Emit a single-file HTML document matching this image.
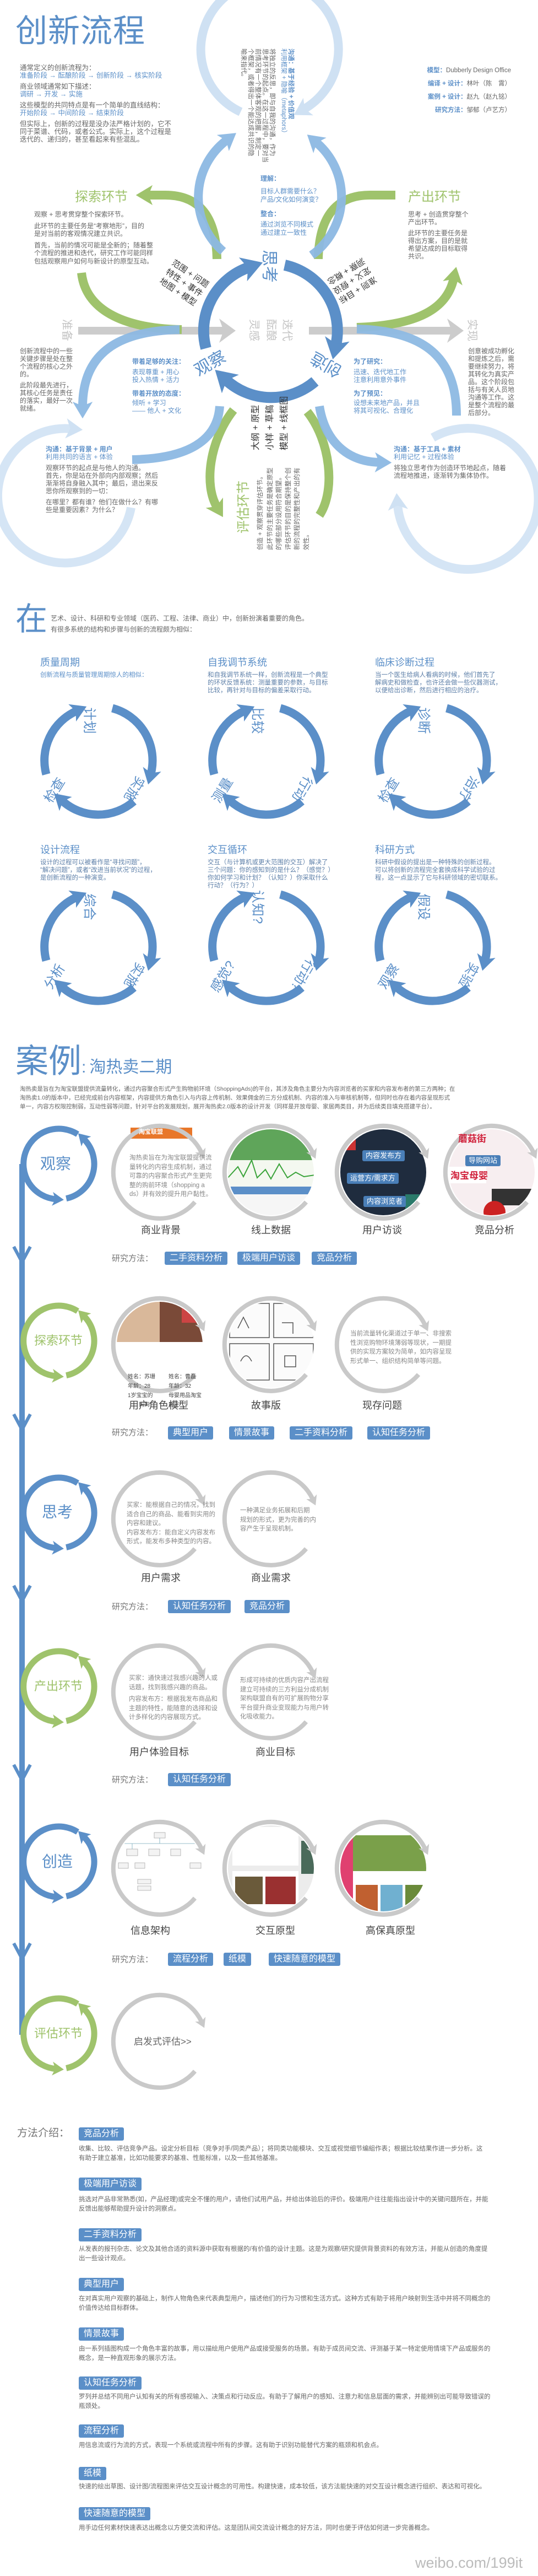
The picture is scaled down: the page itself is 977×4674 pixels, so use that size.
<!DOCTYPE html>
<html><head><meta charset="utf-8">
<style>
*{margin:0;padding:0;box-sizing:border-box}
body{width:977px;height:4674px;position:relative;overflow:hidden;background:#fff;font-family:"Liberation Sans","Noto Sans CJK SC",sans-serif;color:#666}
.t{position:absolute;font-size:12px;line-height:14px;white-space:nowrap;color:#666}
.b{color:#5b8fc8}
.bb{color:#5b8fc8;font-weight:bold}
.g{color:#9fc36c}
.p{margin-bottom:6px}
.rot{position:absolute;transform-origin:center center;white-space:nowrap}
.tag{position:absolute;height:24px;line-height:24px;background:#5b8fc8;color:#fff;font-size:16px;padding:0 9px;border-radius:3px;white-space:nowrap}
.lbl{position:absolute;font-size:18px;color:#444;white-space:nowrap}
.rm{position:absolute;font-size:15px;color:#777;white-space:nowrap}
.ct{position:absolute;font-size:18px;color:#5b8fc8;white-space:nowrap}
.cd{position:absolute;font-size:11.5px;line-height:14px;color:#5d7fa8;white-space:nowrap}
.cl{position:absolute;font-size:24px;color:#5b8fc8;white-space:nowrap;transform-origin:center center}
.md{position:absolute;left:143px;font-size:11.5px;line-height:16.5px;color:#666;white-space:nowrap}
.in{position:absolute;font-size:11.5px;line-height:16.5px;color:#888;white-space:nowrap}
</style></head><body>

<svg width="977" height="4674" style="position:absolute;left:0;top:0" xmlns="http://www.w3.org/2000/svg">
<defs>
<marker id="mD" viewBox="0 0 20 24" refX="6" refY="12" markerWidth="1.9" markerHeight="2.3" orient="auto"><path d="M0,0 L20,12 L0,24 L5,12 z" fill="#5b8fc8"/></marker>
<marker id="mM" viewBox="0 0 20 24" refX="6" refY="12" markerWidth="1.9" markerHeight="2.3" orient="auto"><path d="M0,0 L20,12 L0,24 L5,12 z" fill="#8db9e3"/></marker>
<marker id="mL" viewBox="0 0 20 24" refX="6" refY="12" markerWidth="1.9" markerHeight="2.3" orient="auto"><path d="M0,0 L20,12 L0,24 L5,12 z" fill="#cfe1f3"/></marker>
<marker id="mG" viewBox="0 0 20 24" refX="6" refY="12" markerWidth="1.9" markerHeight="2.3" orient="auto"><path d="M0,0 L20,12 L0,24 L5,12 z" fill="#9fc36c"/></marker>
<marker id="mY" viewBox="0 0 20 24" refX="6" refY="12" markerWidth="2.2" markerHeight="2.6" orient="auto"><path d="M0,0 L20,12 L0,24 L5,12 z" fill="#c9c9c9"/></marker>

<g id="cyc" fill="none" stroke="#5b8fc8" stroke-width="15">
<path d="M 25 -95 A 98 98 0 0 1 95 24" marker-end="url(#mD)"/>
<path d="M 64 74 A 98 98 0 0 1 -66 73" marker-end="url(#mD)"/>
<path d="M -95 25 A 98 98 0 0 1 -40 -90" marker-end="url(#mD)"/>
</g>
<g id="gring" fill="none" stroke="#c9c9c9" stroke-width="8">
<path d="M 64 54 A 84 84 0 1 1 76 -35.5" marker-end="url(#mY)"/>
</g>
<g id="tB" fill="none" stroke="#5b8fc8" stroke-width="11">
<path d="M 34 -54 A 64 64 0 1 0 -5.6 63.8" marker-end="url(#mD)"/>
<path d="M 13.3 62.6 A 64 64 0 0 0 45.3 -45.3" marker-end="url(#mD)"/>
</g>
<g id="tG" fill="none" stroke="#9fc36c" stroke-width="11">
<path d="M 34 -54 A 64 64 0 1 0 -5.6 63.8" marker-end="url(#mG)"/>
<path d="M 13.3 62.6 A 64 64 0 0 0 45.3 -45.3" marker-end="url(#mG)"/>
</g>
<clipPath id="cc"><circle cx="0" cy="0" r="78"/></clipPath>
</defs>

<!-- TOP DIAGRAM -->
<g fill="none">
<path d="M 437 203 A 125 125 0 1 1 552 198" stroke="#cfe1f3" stroke-width="16" marker-end="url(#mL)"/>
<path d="M 238 921 A 122 122 0 1 1 129 778" stroke="#d5e5f5" stroke-width="16" marker-end="url(#mL)"/>
<path d="M 786 794 A 128 128 0 1 1 722 916" stroke="#d5e5f5" stroke-width="16" marker-end="url(#mL)"/>
</g>
<!-- gray arrows -->
<rect x="142" y="593" width="266" height="14" fill="#cccccc"/>
<polygon points="398,578 428,600 398,622 406,600" fill="#cccccc"/>
<rect x="561" y="593" width="262" height="14" fill="#cccccc"/>
<polygon points="812,578 842,600 812,622 820,600" fill="#cccccc"/>
<g fill="none" stroke="#9fc36c" stroke-width="16">
<path d="M 394 470 Q 392 354 300 354 L 268 354" marker-end="url(#mG)"/>
<path d="M 148 495 C 155 560 220 596 330 598"/>
<path d="M 578 470 Q 580 354 672 354 L 718 354"/>
<path d="M 648 594 C 760 590 812 560 824 505" marker-end="url(#mG)"/>
<path d="M 424 744 C 380 800 370 880 394 920" marker-end="url(#mG)"/>
<path d="M 558 747 C 600 800 610 890 580 935"/>
</g>
<g fill="none" stroke="#8db9e3" stroke-width="16" opacity="0.95">
<path d="M 405 456 A 130 130 0 0 1 412 254" marker-end="url(#mM)"/>
<path d="M 566 463 A 130 130 0 0 0 574 258" marker-end="url(#mM)"/>
<path d="M 326 598 C 230 600 150 630 150 738" marker-end="url(#mM)"/>
<path d="M 399 737 C 395 800 340 832 240 834"/>
<path d="M 648 597 C 760 600 829 640 829 754"/>
<path d="M 580 737 C 590 800 630 838 690 839" marker-end="url(#mM)"/>
</g>
<g fill="none" stroke="#5b8fc8" stroke-width="20">
<path d="M 374 632 A 122 122 0 0 1 452 485" marker-end="url(#mD)"/>
<path d="M 517 481 A 122 122 0 0 1 610 626" marker-end="url(#mD)"/>
<path d="M 572 692 A 122 122 0 0 1 410 689" marker-end="url(#mD)"/>
</g>

<!-- CYCLES -->
<use href="#cyc" x="179" y="1380"/>
<use href="#cyc" x="484" y="1380"/>
<use href="#cyc" x="786" y="1380"/>
<use href="#cyc" x="179" y="1718"/>
<use href="#cyc" x="484" y="1718"/>
<use href="#cyc" x="786" y="1718"/>

<!-- TIMELINE -->
<rect x="35" y="2112" width="10" height="1580" fill="#5b8fc8"/>
<g fill="none" stroke="#5b8fc8" stroke-width="6">
<polyline points="25,2262 40,2290 55,2262"/>
<polyline points="25,2566 40,2594 55,2566"/>
<polyline points="25,2877 40,2905 55,2877"/>
<polyline points="25,3202 40,3230 55,3202"/>
<polyline points="25,3526 40,3554 55,3526"/>
</g>
<use href="#tB" x="107" y="2112"/>
<use href="#tG" x="107" y="2433"/>
<use href="#tB" x="107" y="2745"/>
<use href="#tG" x="107" y="3060"/>
<use href="#tB" x="107" y="3378"/>
<use href="#tG" x="107" y="3690"/>

<!-- image circles -->
<g transform="translate(492,2127)" clip-path="url(#cc)">
<rect x="-80" y="-80" width="160" height="160" fill="#fff"/>
<rect x="-80" y="-80" width="160" height="58" fill="#5fa55a"/>
<rect x="-80" y="-22" width="160" height="48" fill="#f4f8f0"/>
<polyline points="-80,12 -60,-10 -50,8 -35,-22 -25,10 -10,-5 0,12 15,-15 30,10 45,0 60,8 80,5" fill="none" stroke="#3aa33a" stroke-width="2"/>
<rect x="-80" y="26" width="160" height="14" fill="#5b8fc8"/>
<rect x="-80" y="40" width="160" height="40" fill="#f6f6f6"/>
</g>
<g transform="translate(696,2127)" clip-path="url(#cc)">
<rect x="-80" y="-80" width="160" height="160" fill="#1f2c3e"/>
<rect x="-80" y="-60" width="30" height="20" fill="#c33"/>
<rect x="40" y="40" width="30" height="30" fill="#2a7a6a"/>
</g>
<g transform="translate(893,2127)" clip-path="url(#cc)">
<rect x="-80" y="-80" width="160" height="160" fill="#f7eef0"/>
<rect x="-80" y="-10" width="70" height="30" fill="#fff"/>
<rect x="0" y="30" width="80" height="30" fill="#333"/>
<circle cx="5" cy="72" r="20" fill="#c22"/>
</g>
<g transform="translate(290,2440)" clip-path="url(#cc)">
<rect x="-80" y="-80" width="160" height="160" fill="#fff"/>
<rect x="-80" y="-80" width="80" height="75" fill="#d9b89a"/>
<rect x="0" y="-80" width="80" height="75" fill="#7a4a38"/>
<rect x="40" y="-80" width="40" height="40" fill="#c44"/>
</g>
<g transform="translate(492,2440)" clip-path="url(#cc)">
<rect x="-80" y="-80" width="160" height="160" fill="#fbfbfb"/>
<g fill="none" stroke="#555" stroke-width="1.5">
<rect x="-75" y="-75" width="72" height="62"/><rect x="5" y="-75" width="72" height="62"/>
<rect x="-75" y="-2" width="72" height="66"/><rect x="5" y="-2" width="72" height="66"/>
<path d="M-60,-30 l10,-20 l10,20 M20,-40 l20,0 l0,20 M-55,30 q10,-20 20,0 M25,20 l20,0 l0,20 l-20,0z"/>
</g>
</g>
<g transform="translate(290,3390)" clip-path="url(#cc)">
<rect x="-80" y="-80" width="160" height="160" fill="#fff"/>
<g fill="#f3f3f3" stroke="#aaa" stroke-width="0.8">
<rect x="-10" y="-65" width="20" height="10"/><rect x="-60" y="-35" width="20" height="12"/><rect x="-20" y="-35" width="20" height="12"/><rect x="20" y="-35" width="18" height="12"/><rect x="-75" y="-10" width="18" height="10"/><rect x="-45" y="-10" width="18" height="10"/><rect x="-40" y="20" width="24" height="8"/><rect x="-40" y="32" width="24" height="8"/><rect x="55" y="-10" width="20" height="10"/>
</g>
<path d="M-75,-45 H75 M0,-55 V-45 M-50,-45 V-35" stroke="#7ab" stroke-width="0.8" fill="none"/>
</g>
<g transform="translate(492,3390)" clip-path="url(#cc)">
<rect x="-80" y="-80" width="160" height="160" fill="#ececec"/>
<rect x="-70" y="-75" width="120" height="70" fill="#fff"/>
<rect x="-70" y="5" width="120" height="75" fill="#fff"/>
<rect x="-65" y="15" width="50" height="50" fill="#6a5a3a"/>
<rect x="-10" y="15" width="55" height="50" fill="#9a3030"/>
<rect x="55" y="-50" width="25" height="60" fill="#4a6a5a"/>
</g>
<g transform="translate(696,3390)" clip-path="url(#cc)">
<rect x="-80" y="-80" width="160" height="160" fill="#fff"/>
<rect x="-55" y="-60" width="135" height="65" fill="#7aa04a"/>
<rect x="-80" y="-70" width="25" height="150" fill="#e04070"/>
<rect x="-50" y="30" width="40" height="50" fill="#c06030"/>
<rect x="-5" y="30" width="40" height="50" fill="#70b0d0"/>
<rect x="40" y="30" width="40" height="50" fill="#6a8a3a"/>
</g>
<g transform="translate(290,2127)"><rect x="-53" y="-81" width="112" height="20" fill="#e8772a"/></g>

<use href="#gring" x="290" y="2127"/>
<use href="#gring" x="492" y="2127"/>
<use href="#gring" x="696" y="2127"/>
<use href="#gring" x="893" y="2127"/>
<use href="#gring" x="290" y="2440"/>
<use href="#gring" x="492" y="2440"/>
<use href="#gring" x="696" y="2440"/>
<use href="#gring" x="290" y="2756"/>
<use href="#gring" x="492" y="2756"/>
<use href="#gring" x="290" y="3070"/>
<use href="#gring" x="492" y="3070"/>
<use href="#gring" x="290" y="3390"/>
<use href="#gring" x="492" y="3390"/>
<use href="#gring" x="696" y="3390"/>
<use href="#gring" x="290" y="3704"/>
</svg>

<!-- ========== TOP TEXT ========== -->
<div class="t b" style="left:28px;top:24px;font-size:58px;line-height:66px;letter-spacing:1px">创新流程</div>
<div class="t" style="left:36px;top:116px;font-size:12.5px">
<div>通常定义的创新流程为：</div>
<div class="b p">准备阶段 → 酝酿阶段 → 创新阶段 → 核实阶段</div>
<div>商业领域通常如下描述：</div>
<div class="b p">调研 → 开发 → 实施</div>
<div>这些模型的共同特点是有一个简单的直线结构：</div>
<div class="b p">开始阶段 → 中间阶段 → 结束阶段</div>
<div>但实际上，创新的过程是没办法严格计划的，它不</div>
<div>同于菜谱、代码，或者公式。实际上，这个过程是</div>
<div>迭代的、递归的，甚至看起来有些混乱。</div>
</div>
<div class="t" style="left:740px;top:116px;width:188px;text-align:right;font-size:11.5px;line-height:24px">
<div><span class="bb">模型：</span>Dubberly Design Office</div>
<div><span class="bb">编译 + 设计：</span>林叶（陈　霄）</div>
<div><span class="bb">案例 + 设计：</span>赵九（赵九铭）</div>
<div><span class="bb">研究方法：</span>邹郁（卢艺方）</div>
</div>

<div class="rot t" style="left:379px;top:143px;width:210px;height:100px;transform:rotate(90deg);font-size:11.5px;line-height:13px">
<div class="bb">沟通：基于经验 + 价值观</div>
<div class="b" style="margin-bottom:8px">利用框架 + 隐喻（metaphors）</div>
<div>将独立的反思，即与自我的沟通，作为</div>
<div>思考环节的起点。在这一过程中，要对当</div>
<div>前情况有一个整体客观的把握，制定一</div>
<div>个框架，或者得出一个能达成共识的隐</div>
<div>喻来指代。</div>
</div>

<div class="t" style="left:473px;top:317px;line-height:15px">
<div class="bb">理解：</div>
<div class="b" style="margin-top:8px">目标人群需要什么？</div>
<div class="b" style="margin-bottom:11px">产品/文化如何演变？</div>
<div class="bb">整合：</div>
<div class="b" style="margin-top:4px">通过浏览不同模式</div>
<div class="b">通过建立一致性</div>
</div>

<div class="t g" style="left:136px;top:344px;font-size:24px;line-height:28px">探索环节</div>
<div class="t" style="left:62px;top:382px;line-height:14.5px">
<div class="p">观察 + 思考贯穿整个探索环节。</div>
<div>此环节的主要任务是“考察地形”，目的</div>
<div class="p">是对当前的客观情况建立共识。</div>
<div>首先，当前的情况可能是全新的；随着整</div>
<div>个流程的推进和迭代，研究工作可能同样</div>
<div>包括观察用户如何与新设计的原型互动。</div>
</div>
<div class="t g" style="left:741px;top:344px;font-size:24px;line-height:28px">产出环节</div>
<div class="t" style="left:741px;top:382px;line-height:14px">
<div>思考 + 创造贯穿整个</div>
<div class="p">产出环节。</div>
<div>此环节的主要任务是</div>
<div>得出方案，目的是就</div>
<div>希望达成的目标取得</div>
<div>共识。</div>
</div>

<div class="rot" style="left:292px;top:493px;width:110px;height:62px;transform:rotate(34deg);font-size:15px;line-height:20px;color:#333">范围 + 问题<br>特性 + 事件<br>地图 + 模型</div>
<div class="rot" style="left:569px;top:485px;width:110px;height:62px;transform:rotate(148deg);font-size:15px;line-height:20px;color:#333">准则 + 目标<br>定义 + 假设<br>洞察 + 概念</div>

<div class="rot b" style="left:457px;top:467px;width:62px;height:34px;transform:rotate(90deg);font-size:30px;line-height:34px">思考</div>
<div class="rot b" style="left:352px;top:643px;width:62px;height:34px;transform:rotate(-30deg);font-size:30px;line-height:34px">观察</div>
<div class="rot b" style="left:561px;top:643px;width:62px;height:34px;transform:rotate(-150deg);font-size:30px;line-height:34px">创造</div>

<div class="rot" style="left:500px;top:588px;width:42px;height:24px;transform:rotate(90deg);font-size:20px;line-height:24px;color:#c4c4c4">迭代</div>
<div class="rot" style="left:471px;top:588px;width:42px;height:24px;transform:rotate(90deg);font-size:20px;line-height:24px;color:#c4c4c4">酝酿</div>
<div class="rot" style="left:440px;top:588px;width:42px;height:24px;transform:rotate(90deg);font-size:20px;line-height:24px;color:#c4c4c4">灵感</div>
<div class="rot" style="left:100px;top:588px;width:42px;height:24px;transform:rotate(90deg);font-size:20px;line-height:24px;color:#c4c4c4">准备</div>
<div class="rot" style="left:836px;top:588px;width:42px;height:24px;transform:rotate(90deg);font-size:20px;line-height:24px;color:#c4c4c4">实现</div>

<div class="t" style="left:36px;top:630px">
<div>创新流程中的一些</div><div>关键步骤是处在整</div><div>个流程的核心之外</div><div class="p">的。</div>
<div>此阶段最先进行，</div><div>其核心任务是责任</div><div>的落实，最好一次</div><div>就绪。</div>
</div>
<div class="t" style="left:850px;top:630px">
<div>创意被成功孵化</div><div>和提炼之后，需</div><div>要继续努力，将</div><div>其转化为真实产</div><div>品。这个阶段包</div><div>括与有关人员地</div><div>沟通等工作。这</div><div>是整个流程的最</div><div>后部分。</div>
</div>

<div class="t" style="left:240px;top:649px">
<div class="bb" style="margin-bottom:5px">带着足够的关注：</div>
<div class="b">表现尊重 + 用心</div>
<div class="b" style="margin-bottom:11px">投入热情 + 活力</div>
<div class="bb" style="margin-bottom:3px">带着开放的态度：</div>
<div class="b">倾听 + 学习</div>
<div class="b">—— 他人 + 文化</div>
</div>
<div class="t" style="left:642px;top:649px">
<div class="bb" style="margin-bottom:5px">为了研究：</div>
<div class="b">迅速、迭代地工作</div>
<div class="b" style="margin-bottom:11px">注意利用意外事件</div>
<div class="bb" style="margin-bottom:3px">为了预见：</div>
<div class="b">设想未来地产品，并且</div>
<div class="b">将其可视化、合理化</div>
</div>

<div class="rot" style="left:442px;top:735px;width:92px;height:72px;transform:rotate(-90deg);font-size:16px;line-height:26px;color:#333">大纲 + 原型<br>小样 + 草稿<br>模型 + 线框图</div>
<div class="rot" style="left:417px;top:848px;width:162px;height:138px;transform:rotate(-90deg);font-size:11.5px;line-height:16.5px">
<div class="g" style="font-size:24px;line-height:28px;margin-left:30px;margin-bottom:8px">评估环节</div>
<div style="margin-bottom:1px">创造 + 观察贯穿评估环节。</div>
<div>此环节的主要任务是确定原型</div>
<div>的哪些部分设用符合期望。</div>
<div>评估环节的目的是保持整个创</div>
<div>新的流程的完整性和产出的有</div>
<div>效性。</div>
</div>

<div class="t" style="left:83px;top:808px">
<div class="bb">沟通：基于背景 + 用户</div>
<div class="b" style="margin-bottom:6px">利用共同的语言 + 体验</div>
<div>观察环节的起点是与他人的沟通。</div>
<div>首先，你是站在外部向内部观察；然后</div>
<div>渐渐将自身融入其中；最后，退出来反</div>
<div class="p">思你所观察到的一切：</div>
<div>在哪里？都有谁？他们在做什么？有哪</div>
<div>些是重要因素？为什么？</div>
</div>
<div class="t" style="left:715px;top:808px">
<div class="bb">沟通：基于工具 + 素材</div>
<div class="b" style="margin-bottom:6px">利用记忆 + 过程体验</div>
<div>将独立思考作为创造环节地起点，随着</div>
<div>流程地推进，逐渐转为集体协作。</div>
</div>

<!-- ========== 在 SECTION ========== -->
<div class="t b" style="left:28px;top:1094px;font-size:58px;line-height:60px">在</div>
<div class="t" style="left:92px;top:1112px;line-height:20px">艺术、设计、科研和专业领域（医药、工程、法律、商业）中，创新扮演着重要的角色。<br>有很多系统的结构和步骤与创新的流程颇为相似：</div>

<div class="ct" style="left:73px;top:1188px">质量周期</div>
<div class="cd" style="left:73px;top:1218px;color:#5b8fc8">创新流程与质量管理周期惊人的相似：</div>
<div class="ct" style="left:377px;top:1188px">自我调节系统</div>
<div class="cd" style="left:377px;top:1218px">和自我调节系统一样，创新流程是一个典型<br>的环状反馈系统：测量重要的参数，与目标<br>比较，再针对与目标的偏差采取行动。</div>
<div class="ct" style="left:681px;top:1188px">临床诊断过程</div>
<div class="cd" style="left:681px;top:1218px">当一个医生给病人看病的时候，他们首先了<br>解病史和做检查，也许还会做一些仪器测试，<br>以便给出诊断，然后进行相应的治疗。</div>
<div class="ct" style="left:73px;top:1528px">设计流程</div>
<div class="cd" style="left:73px;top:1558px">设计的过程可以被看作是“寻找问题”，<br>“解决问题”，或者“改进当前状况”的过程，<br>是创新流程的一种演变。</div>
<div class="ct" style="left:377px;top:1528px">交互循环</div>
<div class="cd" style="left:377px;top:1558px">交互（与计算机或更大范围的交互）解决了<br>三个问题：你的感知到的是什么？（感觉？）<br>你如何学习和计划？（认知？）你采取什么<br>行动？（行为？）</div>
<div class="ct" style="left:681px;top:1528px">科研方式</div>
<div class="cd" style="left:681px;top:1558px">科研中假设的提出是一种特殊的创新过程。<br>可以将创新的流程完全套换成科学试验的过<br>程，这一点显示了它与科研领域的密切联系。</div>

<!-- cycle labels: top center (cx-14, cy-76), right (cx+67,cy+49), left (cx-82,cy+49) -->
<div class="cl" style="left:141px;top:1290px;transform:rotate(90deg)">计划</div>
<div class="cl" style="left:222px;top:1415px;transform:rotate(120deg)">实施</div>
<div class="cl" style="left:73px;top:1415px;transform:rotate(-58deg)">检查</div>
<div class="cl" style="left:446px;top:1290px;transform:rotate(90deg)">比较</div>
<div class="cl" style="left:527px;top:1415px;transform:rotate(120deg)">行动</div>
<div class="cl" style="left:378px;top:1415px;transform:rotate(-58deg)">测量</div>
<div class="cl" style="left:748px;top:1290px;transform:rotate(90deg)">诊断</div>
<div class="cl" style="left:829px;top:1415px;transform:rotate(120deg)">治疗</div>
<div class="cl" style="left:680px;top:1415px;transform:rotate(-58deg)">检查</div>
<div class="cl" style="left:141px;top:1628px;transform:rotate(90deg)">综合</div>
<div class="cl" style="left:222px;top:1753px;transform:rotate(120deg)">实施</div>
<div class="cl" style="left:73px;top:1753px;transform:rotate(-58deg)">分析</div>
<div class="cl" style="left:440px;top:1628px;transform:rotate(90deg)">认知?</div>
<div class="cl" style="left:521px;top:1753px;transform:rotate(120deg)">行动?</div>
<div class="cl" style="left:372px;top:1753px;transform:rotate(-58deg)">感觉?</div>
<div class="cl" style="left:748px;top:1628px;transform:rotate(90deg)">假设</div>
<div class="cl" style="left:829px;top:1753px;transform:rotate(120deg)">实验</div>
<div class="cl" style="left:680px;top:1753px;transform:rotate(-58deg)">观察</div>

<!-- ========== CASE ========== -->
<div class="t b" style="left:28px;top:1893px;font-size:60px;line-height:66px">案例<span style="font-size:30px">:</span><span style="font-size:30px;margin-left:6px">淘热卖二期</span></div>
<div class="t" style="left:36px;top:1968px;font-size:10.5px;line-height:16px">淘热卖是旨在为淘宝联盟提供流量转化，通过内容聚合形式产生购物前环境（ShoppingAds)的平台，其涉及角色主要分为内容浏览者的买家和内容发布者的第三方两种；在<br>淘热卖1.0的版本中，已经完成前台内容框架，内容提供方角色引入与内容上传机制、效果佣金的三方分成机制、内容的准入与审核机制等，但同时也存在着内容呈现形式<br>单一，内容方权限控制弱，互动性弱等问题，针对平台的发展规划，展开淘热卖2.0版本的设计开发（同样是开放母婴、家居两类目，并为后续类目填充搭建平台）。</div>

<div class="t b" style="left:73px;top:2095px;font-size:28px;line-height:34px">观察</div>
<div class="t g" style="left:62px;top:2420px;font-size:22px;line-height:26px">探索环节</div>
<div class="t b" style="left:76px;top:2727px;font-size:28px;line-height:34px">思考</div>
<div class="t g" style="left:62px;top:3047px;font-size:22px;line-height:26px">产出环节</div>
<div class="t b" style="left:76px;top:3361px;font-size:28px;line-height:34px">创造</div>
<div class="t g" style="left:62px;top:3677px;font-size:22px;line-height:26px">评估环节</div>

<div class="t" style="left:252px;top:2047px;font-size:11px;color:#fff;font-weight:bold">淘宝联盟</div>
<div class="in" style="left:235px;top:2093px">淘热卖旨在为淘宝联盟提供流<br>量转化的内容生成机制，通过<br>可靠的内容聚合形式产生更完<br>整的购前环境（shopping a<br>ds）并有效的提升用户黏性。</div>
<div class="t" style="left:658px;top:2087px;background:#4a7fb8;color:#fff;font-size:13px;padding:2px 6px;border-radius:3px;line-height:16px">内容发布方</div>
<div class="t" style="left:630px;top:2128px;background:#4a7fb8;color:#fff;font-size:13px;padding:2px 6px;border-radius:3px;line-height:16px">运营方/需求方</div>
<div class="t" style="left:660px;top:2170px;background:#4a7fb8;color:#fff;font-size:13px;padding:2px 6px;border-radius:3px;line-height:16px">内容浏览者</div>
<div class="t" style="left:845px;top:2096px;background:#4a7fb8;color:#fff;font-size:13px;padding:2px 6px;border-radius:3px;line-height:16px">导购网站</div>
<div class="t" style="left:818px;top:2127px;color:#d0203a;font-size:17px;font-weight:bold">淘宝母婴</div>
<div class="t" style="left:832px;top:2060px;color:#d0203a;font-size:17px;font-weight:bold">蘑菇街</div>

<div class="lbl" style="left:256px;top:2218px">商业背景</div>
<div class="lbl" style="left:456px;top:2218px">线上数据</div>
<div class="lbl" style="left:658px;top:2218px">用户访谈</div>
<div class="lbl" style="left:862px;top:2218px">竞品分析</div>
<div class="rm" style="left:203px;top:2272px">研究方法：</div>
<div class="tag" style="left:299px;top:2271px">二手资料分析</div>
<div class="tag" style="left:431px;top:2271px">极端用户访谈</div>
<div class="tag" style="left:566px;top:2271px">竞品分析</div>

<div class="t" style="left:232px;top:2490px;font-size:10px;line-height:17px;color:#444">姓名：苏珊<br>年龄：28<br>1岁宝宝的<br>　　妈妈</div>
<div class="t" style="left:306px;top:2490px;font-size:10px;line-height:17px;color:#444">姓名：曹磊<br>年龄：32<br>母婴用品淘宝<br>店主</div>
<div class="in" style="left:636px;top:2412px">当前流量转化渠道过于单一、非搜索<br>性浏览购物环境薄弱等现状，一期提<br>供的实现方案较为简单，如内容呈现<br>形式单一、组织结构简单等问题。</div>
<div class="lbl" style="left:234px;top:2536px">用户角色模型</div>
<div class="lbl" style="left:456px;top:2536px">故事版</div>
<div class="lbl" style="left:658px;top:2536px">现存问题</div>
<div class="rm" style="left:203px;top:2588px">研究方法：</div>
<div class="tag" style="left:305px;top:2588px">典型用户</div>
<div class="tag" style="left:416px;top:2588px">情景故事</div>
<div class="tag" style="left:526px;top:2588px">二手资料分析</div>
<div class="tag" style="left:667px;top:2588px">认知任务分析</div>

<div class="in" style="left:230px;top:2723px">买家：能根据自己的情况，找到<br>适合自己的商品、能看到实用的<br>内容和建议。<br>内容发布方：能自定义内容发布<br>形式，能发布多种类型的内容。</div>
<div class="in" style="left:436px;top:2733px">一种满足业务拓展和后期<br>规划的形式，更为完善的内<br>容产生于呈现机制。</div>
<div class="lbl" style="left:256px;top:2849px">用户需求</div>
<div class="lbl" style="left:456px;top:2849px">商业需求</div>
<div class="rm" style="left:203px;top:2904px">研究方法：</div>
<div class="tag" style="left:305px;top:2903px">认知任务分析</div>
<div class="tag" style="left:444px;top:2903px">竞品分析</div>

<div class="in" style="left:234px;top:3037px">买家：通快速过我感兴趣的人或<br>话题，找到我感兴趣的商品。<br><span style="display:block;height:5px"></span>内容发布方：根据我发布商品和<br>主题的特性，能随意的选择和设<br>计多样化的内容展现方式。</div>
<div class="in" style="left:436px;top:3041px">形成可持续的优质内容产出流程<br>建立可持续的三方利益分成机制<br>架构联盟自有的可扩展购物分享<br>平台提升商业变现能力与用户转<br>化吸收能力。</div>
<div class="lbl" style="left:235px;top:3165px">用户体验目标</div>
<div class="lbl" style="left:464px;top:3165px">商业目标</div>
<div class="rm" style="left:203px;top:3218px">研究方法：</div>
<div class="tag" style="left:305px;top:3217px">认知任务分析</div>

<div class="lbl" style="left:237px;top:3489px">信息架构</div>
<div class="lbl" style="left:464px;top:3489px">交互原型</div>
<div class="lbl" style="left:664px;top:3489px">高保真原型</div>
<div class="rm" style="left:203px;top:3544px">研究方法：</div>
<div class="tag" style="left:305px;top:3543px">流程分析</div>
<div class="tag" style="left:406px;top:3543px">纸模</div>
<div class="tag" style="left:488px;top:3543px">快速随意的模型</div>

<div class="t" style="left:243px;top:3695px;font-size:17px;line-height:20px;color:#666">启发式评估&gt;&gt;</div>

<!-- ========== METHODS ========== -->
<div class="t" style="left:31px;top:3858px;font-size:19px;line-height:26px;color:#777">方法介绍：</div>
<div class="tag" style="left:143px;top:3860px">竞品分析</div>
<div class="md" style="top:3891px">收集、比较、评估竞争产品。设定分析目标（竞争对手/同类产品）；将同类功能模块、交互或视觉细节编組作表；根据比较结果作进一步分析。这<br>有助于建立基准，比如功能要求的基准、性能标准，以及一些其他基准。</div>
<div class="tag" style="left:143px;top:3951px">极端用户访谈</div>
<div class="md" style="top:3983px">挑选对产品非常熟悉(如，产品经理)或完全不懂的用户，请他们试用产品，并给出体验后的评价。极端用户往往能指出设计中的关键问题所在，并能<br>反馈出能够帮助提升设计的洞察点。</div>
<div class="tag" style="left:143px;top:4043px">二手资料分析</div>
<div class="md" style="top:4073px">从发表的报刊杂志、论文及其他合适的资料源中获取有根据的/有价值的设计主题。这是为观察/研究提供背景资料的有效方法，并能从创造的角度提<br>出一些设计观点。</div>
<div class="tag" style="left:143px;top:4133px">典型用户</div>
<div class="md" style="top:4163px">在对真实用户观察的基础上，制作人物角色来代表典型用户，描述他们的行为习惯和生活方式。这种方式有助于将用户映射到生活中并将不同概念的<br>价值传达给目标群体。</div>
<div class="tag" style="left:143px;top:4223px">情景故事</div>
<div class="md" style="top:4254px">由一系列插图构成一个角色丰富的故事，用以描绘用户使用产品或接受服务的场景。有助于成员间交流、评测基于某一特定使用情境下产品或服务的<br>概念，是一种直观形象的展示方法。</div>
<div class="tag" style="left:143px;top:4312px">认知任务分析</div>
<div class="md" style="top:4341px">罗列并总结不同用户认知有关的所有感视输入、决策点和行动反应。有助于了解用户的感知、注意力和信息层面的需求，并能辨别出可能导致错误的<br>瓶颈处。</div>
<div class="tag" style="left:143px;top:4399px">流程分析</div>
<div class="md" style="top:4429px">用信息流或行为流的方式，表现一个系统或流程中所有的步骤。这有助于识别功能替代方案的瓶颈和机会点。</div>
<div class="tag" style="left:143px;top:4476px">纸模</div>
<div class="md" style="top:4504px">快速的绘出草图、设计图/流程图来评估交互设计概念的可用性。构建快速，成本较低，该方法能快速的对交互设计概念进行组织、表达和可视化。</div>
<div class="tag" style="left:143px;top:4549px">快速随意的模型</div>
<div class="md" style="top:4579px">用手边任何素材快速表达出概念以方便交流和评估。这是团队间交流设计概念的好方法，同时也便于评估如何进一步完善概念。</div>

<div class="t" style="left:754px;top:4634px;font-size:27px;line-height:32px;color:#bbb">weibo.com/199it</div>
</body></html>
